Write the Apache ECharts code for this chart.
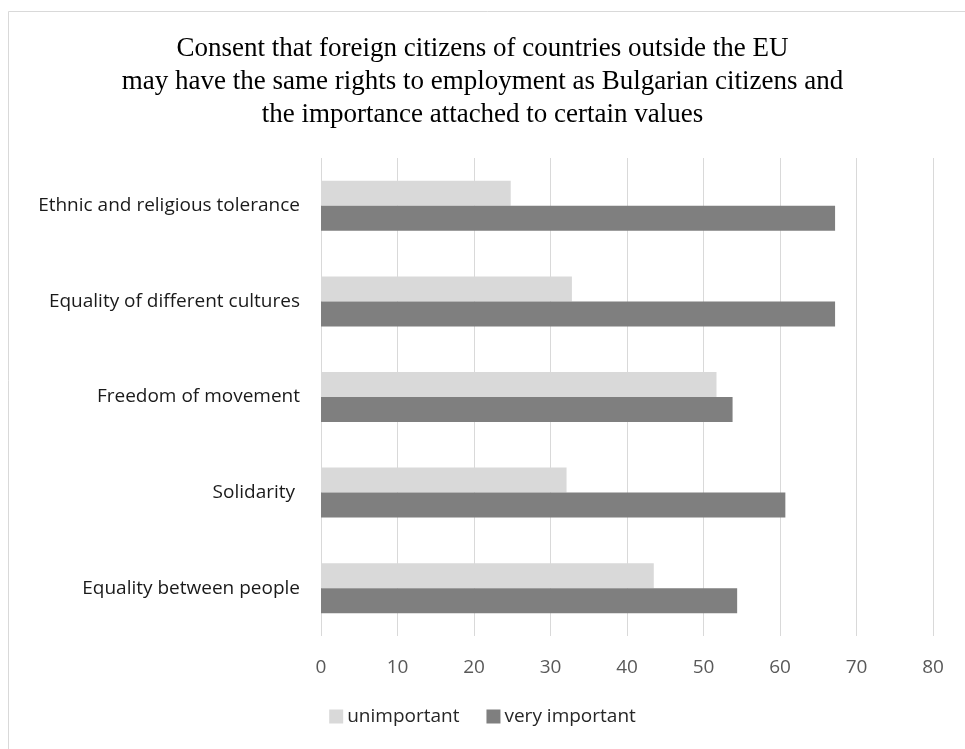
<!DOCTYPE html>
<html>
<head>
<meta charset="utf-8">
<script src="https://cdn.jsdelivr.net/npm/echarts@6/dist/echarts.min.js"></script>
<style>
  html, body { margin: 0; padding: 0; background: #fff; }
  #chart { width: 965px; height: 749px; }
</style>
</head>
<body>
<div id="chart"></div>
<script>
// Values listed bottom-to-top, as the category axis draws them
const categories = [
  'Equality between people',
  'Solidarity ',
  'Freedom of movement',
  'Equality of different cultures',
  'Ethnic and religious tolerance'
];
const unimportant = [43.5, 32.1, 51.7, 32.8, 24.8];
const veryImportant = [54.4, 60.7, 53.8, 67.2, 67.2];
const xTicks = { min: 0, max: 80, step: 10 };
const seriesNames = ['unimportant', 'very important'];

const titleText = 'Consent that foreign citizens of countries outside the EU\n' +
  'may have the same rights to employment as Bulgarian citizens and\n' +
  'the importance attached to certain values';

const sansFont = 'Open Sans';

const chart = echarts.init(document.getElementById('chart'), null, { renderer: 'canvas' });
chart.setOption({
  backgroundColor: '#ffffff',
  animation: false,
  graphic: [{
    type: 'rect',
    shape: { x: 8.5, y: 11.5, width: 1000, height: 800 },
    style: { fill: 'none', stroke: '#d9d9d9', lineWidth: 1 },
    silent: true
  }],
  title: {
    text: titleText,
    left: 'center',
    top: 27,
    textStyle: {
      fontFamily: 'Liberation Serif',
      fontWeight: 'normal',
      fontSize: 27,
      lineHeight: 33,
      color: '#000000'
    }
  },
  legend: {
    data: seriesNames,
    bottom: 18,
    left: 'center',
    itemWidth: 14,
    itemHeight: 14,
    itemGap: 27,
    icon: 'rect',
    textStyle: { fontFamily: sansFont, fontSize: 19, color: '#262626', padding: [0, 0, 0, -1] }
  },
  grid: { left: 321, right: 32, top: 158, bottom: 113, containLabel: false },
  xAxis: {
    type: 'value',
    min: xTicks.min,
    max: xTicks.max,
    interval: xTicks.step,
    axisLine: { show: false },
    axisTick: { show: false },
    axisLabel: { fontFamily: sansFont, fontSize: 19, color: '#595959', margin: 22 },
    splitLine: { show: true, lineStyle: { color: '#d9d9d9', width: 1 } }
  },
  yAxis: {
    type: 'category',
    data: categories,
    axisLine: { show: false },
    axisTick: { show: false },
    axisLabel: { fontFamily: sansFont, fontSize: 19, color: '#1a1a1a', margin: 21 }
  },
  series: [
    {
      name: seriesNames[0],
      type: 'bar',
      data: unimportant,
      barWidth: 25,
      barGap: '0%',
      itemStyle: { color: '#d9d9d9' }
    },
    {
      name: seriesNames[1],
      type: 'bar',
      data: veryImportant,
      barWidth: 25,
      barGap: '0%',
      itemStyle: { color: '#7f7f7f' }
    }
  ]
});
</script>
</body>
</html>
